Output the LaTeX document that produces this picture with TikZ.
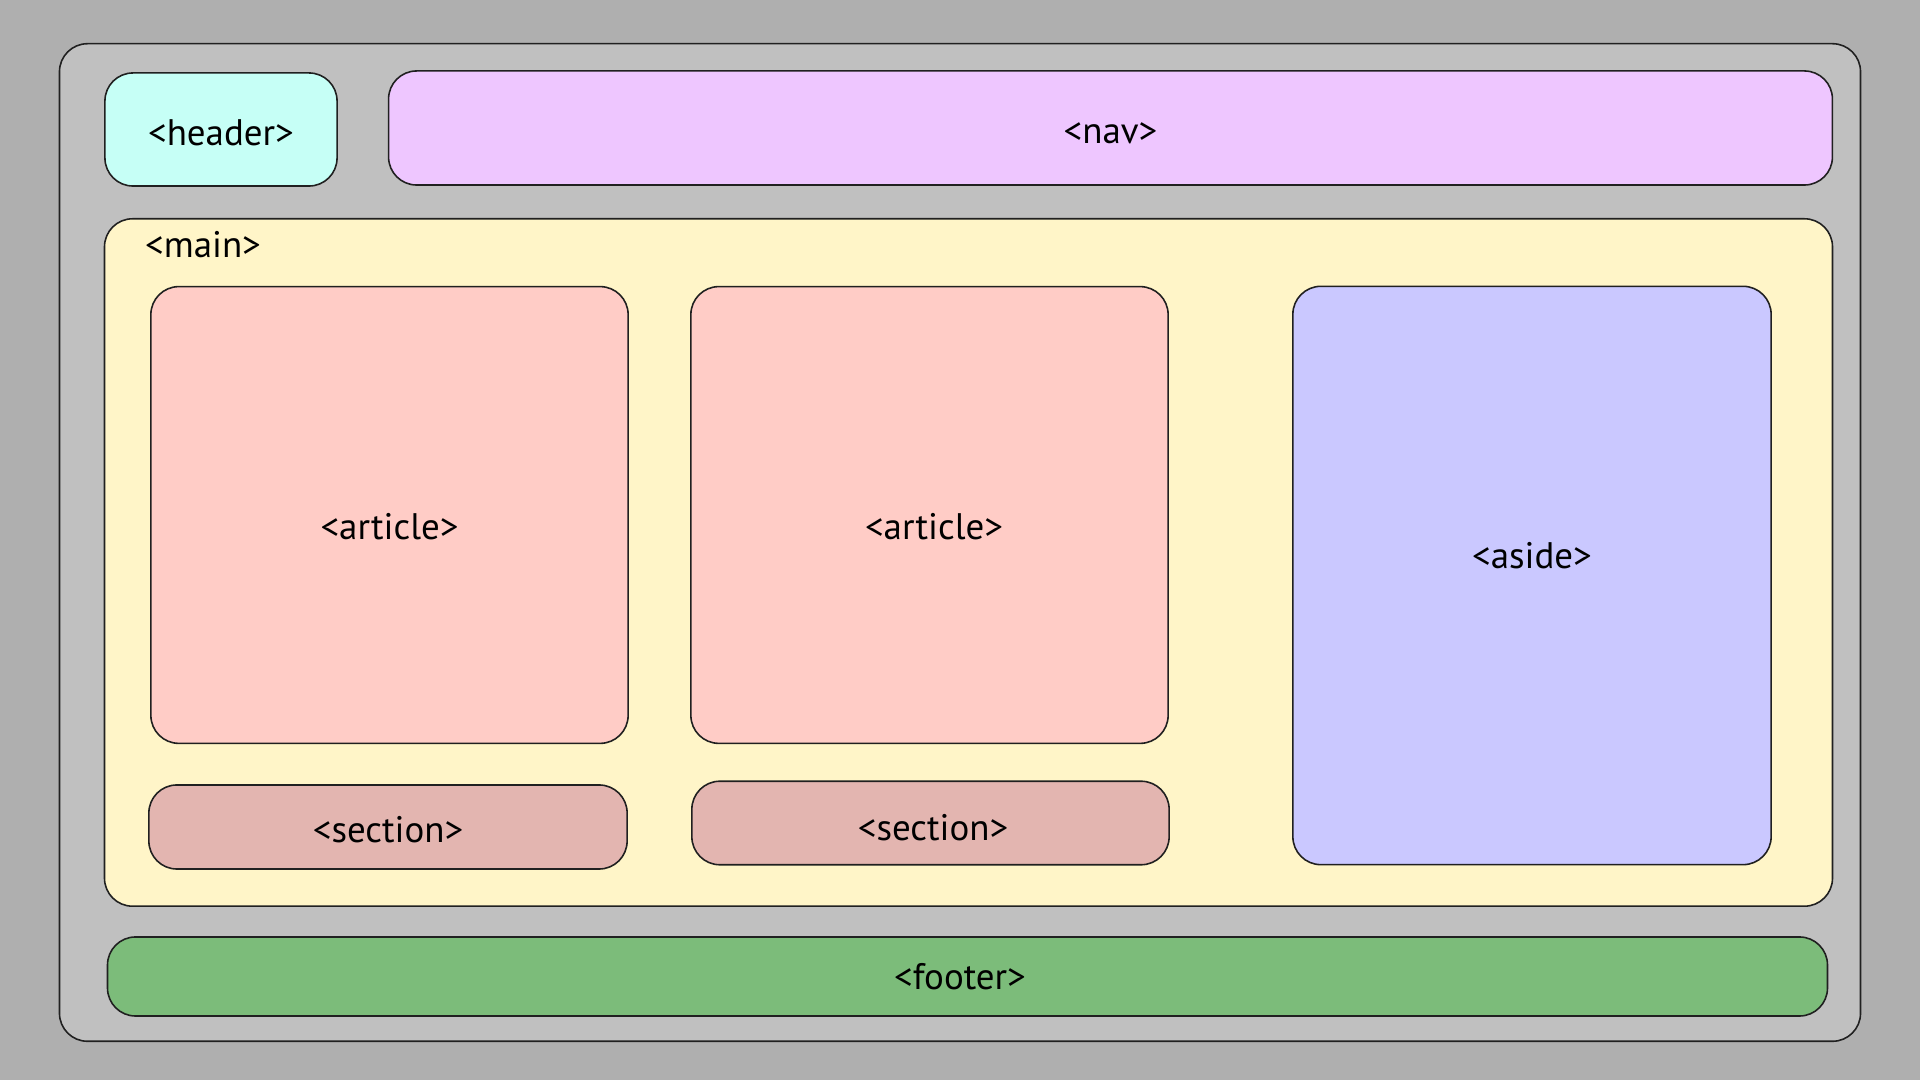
\documentclass[tikz,border=0pt]{standalone}
\usepackage{fontspec}
\setmainfont{PT Sans}
\usetikzlibrary{positioning}
\definecolor{pagebg}{HTML}{AFAFAF}
\definecolor{bodyfill}{HTML}{C0C0C0}
\definecolor{headerfill}{HTML}{C6FFF6}
\definecolor{navfill}{HTML}{EEC6FF}
\definecolor{mainfill}{HTML}{FFF5C8}
\definecolor{articlefill}{HTML}{FFCCC6}
\definecolor{sectionfill}{HTML}{E3B5B0}
\definecolor{asidefill}{HTML}{CAC8FF}
\definecolor{footerfill}{HTML}{7CBC7A}
\definecolor{edgegray}{HTML}{202020}
\tikzset{
  block/.style={draw=edgegray, line width=0.45pt, rounded corners=0.28cm,
    inner sep=0pt, align=center, font=\fontsize{10.5}{12}\selectfont,
    text height=1.1em, text depth=0.2em},
  tagtext/.style={inner sep=0pt, font=\fontsize{10.5}{12}\selectfont,
    text height=1.1em, text depth=0.2em}
}
\begin{document}
\begin{tikzpicture}[x=0.01cm, y=-0.01cm]
  \fill[pagebg] (0,0) rectangle (1920,1080);
  \useasboundingbox (0,0) rectangle (1920,1080);
  % page body
  \node[block, fill=bodyfill, minimum width=18cm, minimum height=9.97cm] (body) at (960,542.5) {};
  % top row
  \node[block, fill=headerfill, minimum width=2.32cm, minimum height=1.13cm] (header) at (221,129.5) {<header>};
  \node[block, fill=navfill, minimum width=14.43cm, minimum height=1.14cm] (nav) at (1110.5,128) {<nav>};
  % main area
  \node[block, fill=mainfill, minimum width=17.27cm, minimum height=6.87cm] (main) at (968.5,562.5) {};
  \node[tagtext, anchor=west] (mainlabel) at (144.5,242) {<main>};
  \node[block, fill=articlefill, minimum width=4.77cm, minimum height=4.565cm] (article1) at (389.5,515) {};
  \node[block, fill=articlefill, minimum width=4.77cm, minimum height=4.565cm] (article2) at (929.5,515) {};
  \node[tagtext] (article1label) at (389.5,523.5) {<article>};
  \node[tagtext] (article2label) at (934,523.5) {<article>};
  \node[block, fill=asidefill, minimum width=4.78cm, minimum height=5.78cm] (aside) at (1532,575.5) {};
  \node[tagtext] (asidelabel) at (1532,553) {<aside>};
  \node[block, fill=sectionfill, minimum width=4.78cm, minimum height=0.84cm] (section1) at (388,827) {<section>};
  \node[block, fill=sectionfill, minimum width=4.77cm, minimum height=0.835cm] (section2) at (930.5,823) {};
  \node[tagtext] (section2label) at (933,825) {<section>};
  % footer
  \node[block, fill=footerfill, minimum width=17.19cm, minimum height=0.79cm] (footer) at (967.5,976.5) {};
  \node[tagtext] (footerlabel) at (960,974) {<footer>};
\end{tikzpicture}
\end{document}
